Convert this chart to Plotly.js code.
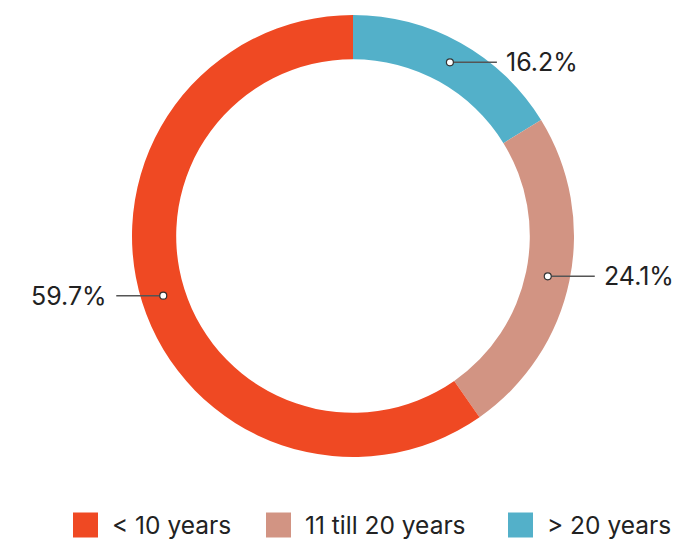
<!DOCTYPE html>
<html>
<head>
<meta charset="utf-8">
<script src="https://cdn.plot.ly/plotly-3.0.1.min.js"></script>
<style>html,body{margin:0;padding:0;background:#fff;}#chart{width:675px;height:542px;}</style>
</head>
<body>
<div id="chart"></div>
<script>
const categories = ["< 10 years", "11 till 20 years", "> 20 years"];
const values = [59.7, 24.1, 16.2];
const valueLabels = ["59.7%", "24.1%", "16.2%"];

const colors = ["#EF4923", "#D29483", "#53B0C9"];
const W = 675, H = 542;
const cx = 353, cy = 236, rOut = 221, hole = 0.8;
const rMid = rOut * (1 + hole) / 2;
const font = "Inter, 'Noto Sans', sans-serif";
const textColor = "#222222";

// Slices run clockwise from 12 o'clock, starting with the last category
const order = categories.map((_, i) => i).reverse();

const pie = {
  type: "pie",
  labels: order.map(i => categories[i]),
  values: order.map(i => values[i]),
  sort: false,
  direction: "clockwise",
  rotation: 0,
  hole: hole,
  textinfo: "none",
  hoverinfo: "label+percent",
  marker: {colors: order.map(i => colors[i]), line: {width: 0}},
  domain: {x: [(cx - rOut) / W, (cx + rOut) / W], y: [(H - cy - rOut) / H, (H - cy + rOut) / H]},
  showlegend: false
};

// invisible trace to establish overlay axes in pixel units
const base = {type: "scatter", mode: "none", x: [0, W], y: [0, H], hoverinfo: "skip", showlegend: false};

const total = values.reduce((a, b) => a + b, 0);
const annotations = [];
const shapes = [];
let cum = 0;
order.forEach(i => {
  const v = values[i];
  const midFrac = (cum + v / 2) / total;
  cum += v;
  const theta = 2 * Math.PI * midFrac; // clockwise from top
  const px = cx + rMid * Math.sin(theta);
  const py = cy - rMid * Math.cos(theta);
  const right = px > cx;
  const ex = right ? px + 47 : px - 47;
  shapes.push({
    type: "line", xref: "x", yref: "y", x0: px, x1: ex, y0: py, y1: py,
    line: {color: "#555555", width: 1.5}, layer: "above"
  });
  shapes.push({
    type: "circle", xref: "x", yref: "y", x0: px - 3.5, x1: px + 3.5, y0: py - 3.5, y1: py + 3.5,
    fillcolor: "#ffffff", line: {color: "#333333", width: 1.2}, layer: "above"
  });
  annotations.push({
    x: right ? ex + 7 : ex - 7, y: py, xref: "x", yref: "y",
    text: valueLabels[i], showarrow: false,
    xanchor: right ? "left" : "right", yanchor: "middle",
    font: {family: font, size: 25, color: textColor}
  });
});

// Legend
const legendX = [73, 266, 508];
const legendY = 525;
const sq = 25;
categories.forEach((c, i) => {
  shapes.push({
    type: "rect", xref: "x", yref: "y",
    x0: legendX[i], x1: legendX[i] + sq, y0: legendY - sq / 2, y1: legendY + sq / 2,
    fillcolor: colors[i], line: {width: 0}, layer: "above"
  });
  annotations.push({
    x: legendX[i] + sq + 12, y: legendY, xref: "x", yref: "y",
    text: c, showarrow: false, xanchor: "left", yanchor: "middle",
    font: {family: font, size: 24.5, color: textColor}
  });
});

const layout = {
  width: W, height: H,
  margin: {l: 0, r: 0, t: 0, b: 0},
  paper_bgcolor: "#ffffff", plot_bgcolor: "rgba(0,0,0,0)",
  showlegend: false,
  xaxis: {range: [0, W], visible: false, fixedrange: true, domain: [0, 1]},
  yaxis: {range: [H, 0], visible: false, fixedrange: true, domain: [0, 1]},
  annotations: annotations,
  shapes: shapes
};

Plotly.newPlot("chart", [base, pie], layout, {displayModeBar: false, staticPlot: true});
</script>
</body>
</html>
